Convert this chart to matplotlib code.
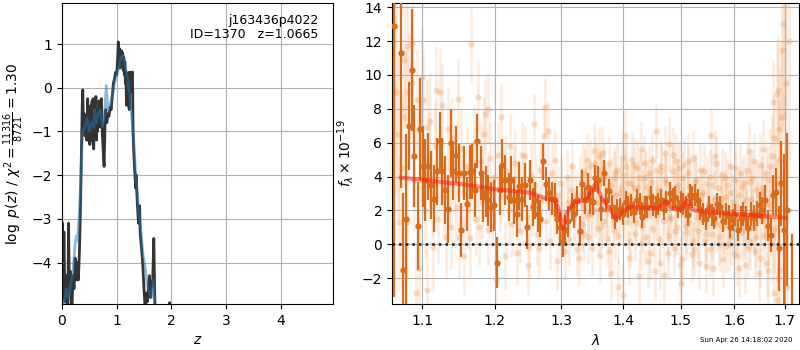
"""Redshift PDF + 1D spectrum panel (grizli-style fit summary)."""

import matplotlib

matplotlib.use("Agg")

import matplotlib.pyplot as plt
from matplotlib.ticker import NullLocator

# ── p(z) panel data ──────────────────────────────────────────────────────────

pz_z = [0.00, 0.01, 0.02, 0.035, 0.05, 0.06, 0.075, 0.09, 0.105, 0.12, 0.135,
        0.15, 0.165, 0.18, 0.20, 0.22, 0.24, 0.26, 0.28, 0.30, 0.32, 0.34,
        0.36, 0.37, 0.38, 0.39, 0.40, 0.41, 0.42, 0.43, 0.44, 0.45, 0.46,
        0.47, 0.48, 0.49, 0.50, 0.51, 0.52, 0.53, 0.54, 0.55, 0.56, 0.57,
        0.58, 0.59, 0.60, 0.61, 0.62, 0.63, 0.64, 0.65, 0.66, 0.67, 0.68,
        0.70, 0.72, 0.74, 0.76, 0.77, 0.78, 0.79, 0.80, 0.82, 0.84, 0.86,
        0.88, 0.90, 0.92, 0.94, 0.96, 0.98, 1.00, 1.01, 1.02, 1.03, 1.04,
        1.05, 1.06, 1.07, 1.08, 1.09, 1.10, 1.11, 1.12, 1.13, 1.14, 1.15,
        1.16, 1.17, 1.18, 1.19, 1.20, 1.21, 1.22, 1.23, 1.24, 1.25, 1.26,
        1.27, 1.28, 1.29, 1.30, 1.31, 1.33, 1.35, 1.36, 1.37, 1.38, 1.40,
        1.42, 1.43, 1.45, 1.47, 1.48, 1.50, 1.52, 1.54, 1.56, 1.58, 1.60,
        1.62, 1.64, 1.66, 1.68, 1.70, 1.72, 1.75, 1.95, 1.97, 1.99]
pz_logp = [-5.3, -3.1, -4.8, -3.3, -4.6, -4.9, -4.3, -4.7, -5.2, -3.1, -4.6,
           -4.2, -4.8, -5.2, -4.3, -4.6, -3.9, -4.4, -4.0, -4.4, -3.7, -2.6,
           -1.2, -0.4, -0.05, -0.8, -1.0, -0.6, -1.1, -0.7, -0.9, -1.2, -0.8,
           -0.25, -1.2, -1.0, -0.6, -1.3, -0.9, -0.4, -1.2, -0.3, -1.0, -0.25,
           -1.4, -0.8, -0.5, -0.9, -0.2, -1.2, -0.7, -1.0, -0.5, -0.9, -0.3,
           -0.9, -0.25, -1.1, -1.6, -1.8, -1.2, -0.7, -0.5, -0.8, -0.6, -0.65,
           -0.45, -0.5, -0.2, 0.1, 0.2, 0.35, 0.3, 0.5, 0.7, 1.05, 0.55,
           0.9, 0.45, 0.75, 0.5, 0.85, 0.6, 0.8, 0.4, 0.7, 0.3, 0.6,
           0.1, 0.35, -0.4, 0.3, 0.0, -0.4, 0.35, -0.5, 0.3, 0.35, -0.1,
           0.35, 0.3, 0.36, -1.0, -1.4, -1.9, -2.3, -2.0, -2.4, -2.7, -3.1,
           -2.7, -3.3, -3.6, -3.9, -4.1, -4.6, -5.0, -4.7, -4.9, -4.6, -4.3,
           -4.8, -4.5, -4.4, -3.45, -5.0, -5.5, -5.5, -5.3, -4.92, -5.3]

pz_smooth_z = [0.00, 0.05, 0.08, 0.12, 0.16, 0.20, 0.24, 0.26, 0.28, 0.30,
               0.32, 0.34, 0.36, 0.38, 0.42, 0.46, 0.50, 0.54, 0.58, 0.60,
               0.63, 0.66, 0.70, 0.74, 0.78, 0.81, 0.84, 0.88, 0.92, 0.96,
               1.00, 1.04, 1.08, 1.12, 1.16, 1.20, 1.24, 1.28, 1.31, 1.34,
               1.37, 1.40, 1.44, 1.48, 1.52, 1.56, 1.60, 1.64, 1.67, 1.70,
               1.73]
pz_smooth_logp = [-5.3, -4.9, -4.6, -4.8, -4.5, -4.2, -3.6, -3.4, -3.5, -3.2,
                  -2.8, -2.3, -1.5, -1.0, -0.9, -0.7, -1.0, -0.8, -0.9, -0.5,
                  -0.8, -0.6, -0.5, -0.9, -0.6, 0.05, -0.5, -0.4, -0.2, 0.1,
                  0.3, 0.45, 0.7, 0.75, 0.5, 0.2, -0.2, -0.7, -1.1, -1.8,
                  -2.3, -2.8, -3.2, -3.8, -4.1, -4.5, -4.7, -4.8, -4.4, -4.9,
                  -5.5]

pz_ylabel = r"$\log\ p(z)$ / $\chi^2=\frac{11316}{8721}=1.30$"
obj_label = "j163436p4022\nID=1370   z=1.0665"

# ── spectrum panel data ──────────────────────────────────────────────────────

# binned spectrum (dark points)
bin_wave = [1.063, 1.072, 1.075, 1.079, 1.083, 1.087, 1.089, 1.094, 1.097,
            1.101, 1.104, 1.108, 1.112, 1.116, 1.119, 1.123, 1.127, 1.131,
            1.134, 1.138, 1.142, 1.146, 1.149, 1.153, 1.156, 1.160, 1.165,
            1.168, 1.172, 1.175, 1.180, 1.183, 1.187, 1.191, 1.195, 1.199,
            1.203, 1.208, 1.211, 1.215, 1.220, 1.223, 1.228, 1.232, 1.236,
            1.240, 1.244, 1.248, 1.252, 1.256, 1.260, 1.264, 1.267, 1.272,
            1.276, 1.281, 1.285, 1.290, 1.293, 1.298, 1.302, 1.306, 1.310,
            1.316, 1.320, 1.325, 1.329, 1.333, 1.337, 1.342, 1.345, 1.350,
            1.354, 1.359, 1.363, 1.368, 1.372, 1.377, 1.381, 1.386, 1.390,
            1.395, 1.400, 1.405, 1.409, 1.414, 1.419, 1.423, 1.428, 1.432,
            1.437, 1.441, 1.447, 1.451, 1.456, 1.460, 1.465, 1.470, 1.474,
            1.481, 1.486, 1.490, 1.496, 1.500, 1.504, 1.509, 1.513, 1.517,
            1.521, 1.526, 1.531, 1.536, 1.541, 1.546, 1.552, 1.557, 1.562,
            1.568, 1.573, 1.578, 1.584, 1.589, 1.592, 1.597, 1.602, 1.607,
            1.613, 1.617, 1.622, 1.627, 1.633, 1.638, 1.644, 1.650, 1.655,
            1.660, 1.666, 1.672, 1.677, 1.683, 1.688, 1.692, 1.698, 1.704,
            1.715]
bin_flux = [12.9, 11.3, -1.5, 1.5, 7.0, 10.3, 5.2, 1.1, 6.8,
            4.6, 3.8, 4.6, 3.5, 2.7, 4.3, 6.1, 4.3, 3.2,
            2.1, 6.0, 4.3, 5.3, 4.2, 0.85, 4.2, 2.4, 4.25,
            4.3, 3.2, 6.1, 4.2, 2.8, 3.1, 2.6, 2.2, 2.3,
            -1.1, 3.2, 4.7, 3.8, 2.8, 3.8, 2.6, 1.8, 3.45,
            2.7, 3.5, 1.0, 3.8, 2.2, 2.6, 1.8, 1.5, 4.9,
            3.55, 3.0, 2.7, 2.6, 1.5, 1.0, 0.15, 0.85, 1.35,
            2.2, 1.8, 2.6, 0.8, 3.55, 2.6, 3.4, 2.6, 2.5,
            3.9, 3.8, 2.1, 4.2, 2.6, 3.15, 2.2, 1.6, 2.0,
            2.1, 1.8, 2.5, 2.2, 2.3, 1.9, 2.6, 2.4, 1.6,
            2.2, 2.2, 2.8, 2.3, 2.2, 2.4, 2.6, 2.1, 2.5,
            3.0, 2.65, 2.8, 2.2, 2.5, 2.4, 2.2, 1.75, 2.9,
            2.8, 2.9, 2.6, 2.1, 1.8, 1.5, 2.2, 1.7, 1.55,
            2.4, 2.2, 1.35, 1.8, 1.65, 1.0, 1.45, 1.75, 0.85,
            1.55, 1.8, 1.55, 0.95, 1.8, 1.55, 1.8, 2.3, 2.0,
            2.6, 1.1, 0.55, 2.9, 3.1, -0.25, 3.6, 0.85, 2.05,
            -4.0]
bin_err = [16.0, 8.0, 4.5, 5.0, 2.6, 3.6, 3.0, 2.6, 3.0,
           2.4, 2.4, 2.0, 2.0, 2.0, 2.0, 1.7, 2.0, 2.0,
           2.0, 2.0, 1.7, 1.7, 1.7, 1.6, 1.6, 1.6, 1.6,
           1.6, 1.6, 1.6, 1.6, 1.5, 1.5, 1.5, 1.5, 1.5,
           1.5, 1.5, 1.5, 1.5, 1.4, 1.4, 1.4, 1.4, 1.4,
           1.3, 1.3, 1.3, 1.2, 1.1, 1.1, 1.1, 1.1, 1.1,
           1.0, 1.0, 1.0, 1.0, 0.9, 0.9, 0.9, 0.9, 0.9,
           0.85, 0.85, 0.85, 0.85, 0.85, 0.8, 0.8, 0.8, 0.8,
           0.8, 0.8, 0.75, 0.75, 0.7, 0.7, 0.7, 0.7, 0.7,
           0.65, 0.65, 0.65, 0.65, 0.65, 0.65, 0.65, 0.65, 0.65,
           0.65, 0.65, 0.65, 0.65, 0.65, 0.65, 0.65, 0.65, 0.65,
           0.65, 0.65, 0.65, 0.65, 0.65, 0.65, 0.65, 0.65, 0.65,
           0.65, 0.65, 0.65, 0.65, 0.65, 0.65, 0.65, 0.65, 0.65,
           0.65, 0.65, 0.65, 0.65, 0.65, 0.65, 0.65, 0.65, 0.65,
           0.7, 0.7, 0.7, 0.7, 0.7, 0.75, 0.75, 0.8, 0.8,
           0.9, 0.9, 1.0, 1.2, 1.4, 2.5, 2.5, 4.5, 4.5,
           4.6]

# individual-beam spectra (faint points), first beam
raw_wave = [
    1.063, 1.066, 1.068, 1.070, 1.073, 1.076, 1.078, 1.080, 1.080, 1.083,
    1.086, 1.086, 1.089, 1.092, 1.093, 1.096, 1.098, 1.100, 1.101, 1.104,
    1.106, 1.106, 1.109, 1.110, 1.113, 1.114, 1.117, 1.118, 1.121, 1.123,
    1.125, 1.127, 1.129, 1.132, 1.134, 1.136, 1.138, 1.140, 1.143, 1.145,
    1.148, 1.150, 1.153, 1.155, 1.157, 1.160, 1.162, 1.165, 1.166, 1.169,
    1.171, 1.173, 1.176, 1.177, 1.180, 1.182, 1.185, 1.186, 1.189, 1.190,
    1.190, 1.193, 1.196, 1.199, 1.202, 1.205, 1.207, 1.209, 1.212, 1.215,
    1.217, 1.220, 1.222, 1.225, 1.228, 1.230, 1.232, 1.235, 1.237, 1.240,
    1.242, 1.245, 1.247, 1.249, 1.250, 1.253, 1.255, 1.258, 1.260, 1.262,
    1.265, 1.267, 1.270, 1.273, 1.274, 1.276, 1.279, 1.281, 1.283, 1.286,
    1.288, 1.290, 1.293, 1.295, 1.298, 1.300, 1.303, 1.305, 1.308, 1.310,
    1.312, 1.315, 1.317, 1.320, 1.322, 1.325, 1.327, 1.329, 1.332, 1.334,
    1.336, 1.339, 1.340, 1.343, 1.345, 1.347, 1.350, 1.352, 1.354, 1.356,
    1.358, 1.360, 1.362, 1.364, 1.365, 1.367, 1.369, 1.371, 1.373, 1.375,
    1.377, 1.380, 1.382, 1.384, 1.386, 1.388, 1.390, 1.392, 1.394, 1.396,
    1.399, 1.399, 1.402, 1.404, 1.405, 1.407, 1.409, 1.411, 1.413, 1.415,
    1.417, 1.419, 1.421, 1.423, 1.425, 1.427, 1.429, 1.430, 1.432, 1.434,
    1.436, 1.438, 1.440, 1.442, 1.444, 1.446, 1.448, 1.450, 1.452, 1.454,
    1.456, 1.457, 1.459, 1.461, 1.464, 1.466, 1.468, 1.470, 1.472, 1.473,
    1.475, 1.477, 1.479, 1.481, 1.483, 1.486, 1.488, 1.490, 1.492, 1.494,
    1.496, 1.499, 1.500, 1.502, 1.504, 1.506, 1.509, 1.511, 1.513, 1.515,
    1.518, 1.520, 1.522, 1.525, 1.527, 1.529, 1.532, 1.534, 1.536, 1.539,
    1.541, 1.544, 1.547, 1.549, 1.551, 1.554, 1.556, 1.558, 1.560, 1.562,
    1.564, 1.567, 1.569, 1.572, 1.574, 1.577, 1.579, 1.582, 1.584, 1.587,
    1.589, 1.592, 1.594, 1.597, 1.599, 1.602, 1.604, 1.606, 1.609, 1.611,
    1.614, 1.616, 1.619, 1.620, 1.623, 1.625, 1.628, 1.630, 1.633, 1.635,
    1.638, 1.640, 1.643, 1.645, 1.648, 1.650, 1.652, 1.655, 1.656, 1.659,
    1.661, 1.664, 1.666, 1.669, 1.671, 1.674, 1.677, 1.678, 1.679, 1.681,
    1.684, 1.685, 1.686, 1.688, 1.690, 1.692, 1.694, 1.696, 1.698, 1.700,
    1.702, 1.705, 1.708]
raw_flux = [
    14.5, 9.0, 6.5, 1.3, 4.5, 10.9, 7.5, 11.7, 1.3, 9.0,
    11.9, 9.5, 3.8, -2.9, 8.5, -1.4, 5.5, 9.9, 8.5, 2.0,
    -2.7, 6.9, 5.0, 7.3, 3.0, -0.15, 5.8, 9.1, 1.5, 9.0,
    4.5, 8.2, 2.8, 0.45, 6.8, 3.6, 1.0, 6.3, 4.8, 2.2,
    8.6, 0.4, 5.6, 3.0, -0.7, 4.6, 2.0, 0.35, 11.8, 3.6,
    6.0, 1.5, 8.7, 1.0, 4.9, 2.5, 6.5, 7.7, 3.4, 0.85,
    8.0, 5.1, 1.9, 4.0, -2.1, 5.3, 2.8, 7.5, 3.6, -0.7,
    4.4, 2.0, 5.8, 1.2, 3.9, 4.8, -0.5, 2.6, 0.8, 5.3,
    3.1, 5.2, 1.6, -1.2, -0.25, 4.1, 2.3, 7.1, 3.5, 0.6,
    -0.25, 4.4, 2.6, 6.4, 8.1, 1.4, 6.7, 3.3, 0.2, 4.2,
    2.0, 5.0, -1.0, 2.9, 0.9, 3.6, 1.9, -0.4, 4.0, 2.5,
    0.3, 3.2, 4.6, 1.5, 2.8, -0.3, -0.8, 3.7, 1.2, 4.3,
    2.2, 3.0, 5.0, 0.45, 4.6, 1.8, 3.4, 5.5, 2.0, 4.4,
    0.9, 5.2, -0.7, 3.6, 5.4, 1.4, 4.0, 2.6, 0.3, 3.2,
    4.8, -1.7, 2.3, 3.9, 0.8, 2.9, 4.4, -2.5, 1.6, 3.3,
    -3.0, 2.4, 4.1, 6.4, 4.6, 1.3, 2.9, 0.2, 3.6, 5.0,
    1.9, 3.3, 0.6, 4.5, 2.6, -1.9, 3.9, 5.6, 1.1, 2.8,
    4.8, 0.4, 3.4, 1.7, 4.2, -0.5, 2.5, 3.7, 0.9, -1.6,
    4.4, 6.7, 2.1, 3.2, -1.1, 4.6, 1.4, -1.8, 3.8, 5.4,
    2.2, 0.5, 5.9, 3.0, 1.6, 4.3, -0.2, 2.7, 4.9, 1.0,
    3.5, -1.2, -2.3, 3.9, 1.8, 4.7, 0.7, 2.9, 4.2, 1.3,
    3.4, -0.6, 5.1, -0.3, 2.4, 3.8, 0.8, 2.0, 4.4, 1.5,
    3.1, 0.2, -1.3, 3.6, 1.9, 4.0, 6.45, 0.6, -1.4, 2.7,
    5.2, 1.2, 3.3, 0.0, 2.3, 4.1, 1.0, 2.8, -0.1, 3.5,
    1.6, 4.6, 0.4, 2.5, -0.6, 3.8, 1.2, -0.7, 2.9, 4.2,
    0.7, 2.1, 3.6, -1.2, 1.5, 4.4, 5.5, 0.2, 2.7, 3.9,
    1.0, -0.4, 3.2, 2.0, -1.7, 4.7, 1.4, 3.0, 5.6, 0.5,
    2.4, -1.1, 3.8, 1.1, 4.6, 0.0, 8.4, -2.9, 6.3, 2.6,
    8.9, -3.3, 9.1, 5.0, -1.5, 7.5, 11.5, 13.0, 3.0, 14.5,
    9.5, -2.5, 12.0]
raw_err = [
    8.0, 6.0, 5.0, 4.0, 4.5, 4.0, 4.0, 4.0, 3.5, 3.5,
    3.5, 3.5, 3.0, 3.0, 3.0, 3.0, 3.0, 3.0, 3.0, 2.8,
    2.8, 2.8, 2.8, 2.8, 2.6, 2.6, 2.6, 2.6, 2.6, 2.6,
    2.5, 2.5, 2.5, 2.5, 2.5, 2.5, 2.5, 2.4, 2.4, 2.4,
    2.4, 2.4, 2.4, 2.3, 2.3, 2.3, 2.3, 2.3, 2.3, 2.2,
    2.2, 2.2, 2.2, 2.2, 2.2, 2.2, 2.2, 2.1, 2.1, 2.1,
    2.1, 2.1, 2.1, 2.1, 2.0, 2.0, 2.0, 2.0, 2.0, 2.0,
    2.0, 1.9, 1.9, 1.9, 1.9, 1.9, 1.9, 1.9, 1.9, 1.9,
    1.8, 1.8, 1.8, 1.8, 1.8, 1.8, 1.8, 1.8, 1.8, 1.8,
    1.8, 1.7, 1.7, 1.7, 1.7, 1.7, 1.7, 1.7, 1.7, 1.7,
    1.7, 1.7, 1.7, 1.7, 1.7, 1.7, 1.7, 1.7, 1.6, 1.6,
    1.6, 1.6, 1.6, 1.6, 1.6, 1.6, 1.6, 1.6, 1.6, 1.6,
    1.6, 1.6, 1.6, 1.6, 1.6, 1.6, 1.6, 1.6, 1.6, 1.6,
    1.6, 1.6, 1.6, 1.6, 1.6, 1.6, 1.6, 1.6, 1.6, 1.6,
    1.6, 1.6, 1.6, 1.6, 1.6, 1.6, 1.6, 1.6, 1.6, 1.6,
    1.6, 1.6, 1.6, 1.6, 1.6, 1.6, 1.6, 1.6, 1.6, 1.6,
    1.6, 1.6, 1.6, 1.6, 1.6, 1.6, 1.6, 1.6, 1.6, 1.6,
    1.6, 1.6, 1.6, 1.6, 1.6, 1.6, 1.6, 1.6, 1.6, 1.6,
    1.6, 1.6, 1.6, 1.6, 1.6, 1.6, 1.6, 1.6, 1.6, 1.6,
    1.6, 1.6, 1.6, 1.6, 1.6, 1.6, 1.6, 1.6, 1.6, 1.6,
    1.6, 1.6, 1.6, 1.6, 1.6, 1.6, 1.6, 1.6, 1.6, 1.6,
    1.6, 1.6, 1.6, 1.6, 1.6, 1.6, 1.6, 1.6, 1.6, 1.6,
    1.6, 1.6, 1.6, 1.6, 1.6, 1.6, 1.6, 1.6, 1.6, 1.6,
    1.6, 1.6, 1.6, 1.6, 1.6, 1.6, 1.6, 1.6, 1.6, 1.6,
    1.6, 1.6, 1.6, 1.6, 1.6, 1.7, 1.7, 1.7, 1.7, 1.7,
    1.7, 1.7, 1.7, 1.7, 1.7, 1.7, 1.7, 1.7, 1.7, 1.7,
    1.7, 1.7, 1.7, 1.7, 1.7, 1.8, 1.8, 1.8, 1.8, 1.9,
    1.9, 2.0, 2.0, 2.1, 2.2, 2.3, 2.5, 2.6, 2.6, 2.8,
    3.0, 3.0, 3.2, 3.5, 4.0, 4.5, 5.0, 6.0, 6.0, 7.0,
    7.0, 7.0, 8.0]

# second beam, red half of the spectrum only
raw2_wave = [
    1.331, 1.335, 1.338, 1.342, 1.346, 1.349, 1.353, 1.357, 1.361, 1.364,
    1.368, 1.372, 1.376, 1.379, 1.383, 1.387, 1.391, 1.395, 1.398, 1.402,
    1.406, 1.410, 1.414, 1.418, 1.422, 1.426, 1.430, 1.434, 1.438, 1.442,
    1.446, 1.450, 1.454, 1.458, 1.462, 1.466, 1.470, 1.474, 1.478, 1.482,
    1.486, 1.490, 1.494, 1.498, 1.502, 1.506, 1.510, 1.514, 1.518, 1.522,
    1.526, 1.530, 1.534, 1.538, 1.542, 1.546, 1.550, 1.554, 1.558, 1.562,
    1.566, 1.570, 1.574, 1.578, 1.582, 1.586, 1.590, 1.594, 1.598, 1.602,
    1.606, 1.610, 1.614, 1.618, 1.622, 1.626, 1.630, 1.634, 1.638, 1.642,
    1.646, 1.650, 1.654, 1.658, 1.662, 1.666, 1.670, 1.674, 1.678, 1.682,
    1.686, 1.689]
raw2_flux = [
    2.9, 0.6, 4.1, 1.7, 3.3, -0.2, 4.8, 2.5, 3.9, 1.1,
    4.5, 2.0, -0.4, 3.5, 1.4, 4.2, 0.5, 3.0, 5.1, 1.8,
    3.6, -0.8, 2.6, 4.7, 1.3, 3.4, 0.1, 2.3, 4.0, -1.0,
    3.1, 5.0, 1.9, 2.8, 0.3, 4.3, 2.2, 3.6, -0.5, 1.5,
    5.3, 0.8, 3.2, 4.5, -0.9, 2.6, 1.1, 4.9, 2.0, 0.2,
    3.7, 1.6, -1.1, 2.9, 4.3, 0.6, 2.4, -0.3, 3.5, 1.3,
    4.8, 0.4, 2.7, -0.9, 3.9, 1.7, 0.0, 3.0, 1.1, 4.5,
    2.2, -1.4, 3.4, 0.9, 2.6, -0.2, 3.7, 1.5, 4.9, 0.4,
    2.9, -0.8, 3.3, 1.6, 4.2, -1.6, 2.3, 5.2, 0.9, 3.6,
    -2.0, 6.8]
raw2_err = [
    1.6, 1.6, 1.6, 1.6, 1.6, 1.6, 1.6, 1.6, 1.6, 1.6,
    1.6, 1.6, 1.6, 1.6, 1.6, 1.6, 1.6, 1.6, 1.6, 1.6,
    1.6, 1.6, 1.6, 1.6, 1.6, 1.6, 1.6, 1.6, 1.6, 1.6,
    1.6, 1.6, 1.6, 1.6, 1.6, 1.6, 1.6, 1.6, 1.6, 1.6,
    1.6, 1.6, 1.6, 1.6, 1.6, 1.6, 1.6, 1.6, 1.6, 1.6,
    1.6, 1.6, 1.6, 1.6, 1.6, 1.6, 1.6, 1.6, 1.6, 1.6,
    1.6, 1.6, 1.6, 1.6, 1.6, 1.6, 1.6, 1.6, 1.6, 1.7,
    1.7, 1.7, 1.7, 1.7, 1.7, 1.7, 1.7, 1.7, 1.7, 1.8,
    1.8, 1.8, 1.9, 1.9, 2.0, 2.1, 2.2, 2.4, 2.6, 2.8,
    3.2, 3.6]

# best-fit template
model_wave = [1.072, 1.155, 1.201, 1.252, 1.275, 1.290, 1.295, 1.303, 1.308,
              1.319, 1.337, 1.343, 1.355, 1.364, 1.375, 1.388, 1.399, 1.409,
              1.460, 1.466, 1.474, 1.484, 1.498, 1.502, 1.512, 1.519, 1.528,
              1.586, 1.650, 1.701]
model_flux = [3.94, 3.54, 3.25, 3.05, 2.72, 2.62, 2.13, 0.89, 1.83,
              2.42, 2.62, 2.81, 3.60, 2.72, 2.22, 1.54, 1.93, 2.18,
              2.13, 2.30, 2.52, 2.13, 2.03, 2.15, 2.62, 2.13, 1.97,
              1.83, 1.67, 1.57]

wave_ticks = [1.1, 1.2, 1.3, 1.4, 1.5, 1.6, 1.7]
timestamp = "Sun Apr 26 14:18:02 2020"

# ── figure ───────────────────────────────────────────────────────────────────

fig = plt.figure(figsize=(8, 3.5), dpi=100)
ax_pz = fig.add_axes([0.0775, 0.1314, 0.3388, 0.86])
ax_sp = fig.add_axes([0.49, 0.1314, 0.50875, 0.86])

# p(z)
ax_pz.plot(pz_z, pz_logp, color="0.2", lw=2, zorder=2)
ax_pz.plot(pz_smooth_z, pz_smooth_logp, color="tab:blue", alpha=0.5, lw=2,
           zorder=3)
ax_pz.set_xlim(0, 4.96)
ax_pz.set_ylim(-4.95, 1.94)
ax_pz.set_xticks([0, 1, 2, 3, 4])
ax_pz.set_yticks([-4, -3, -2, -1, 0, 1])
ax_pz.set_xlabel(r"$z$")
ax_pz.set_ylabel(pz_ylabel)
ax_pz.grid(True)
ax_pz.text(0.945, 0.965, obj_label, ha="right", va="top",
           transform=ax_pz.transAxes, fontsize=9, linespacing=1.1)

# spectrum: faint per-beam points first, then binned points and model
faint = "#ee8a3c"
for w, f, e in [(raw_wave, raw_flux, raw_err),
                (raw2_wave, raw2_flux, raw2_err)]:
    ax_sp.errorbar(w, f, e, fmt="none", ecolor=faint, elinewidth=2,
                   alpha=0.15, zorder=1)
    ax_sp.plot(w, f, "o", color=faint, ms=4.5, mew=0, alpha=0.28, zorder=1)

orange_dark = "#d96c1c"
ax_sp.errorbar(bin_wave, bin_flux, bin_err, fmt="o", color=orange_dark,
               ecolor=orange_dark, ms=4.5, mew=0, elinewidth=1.6, zorder=3)
ax_sp.plot(model_wave, model_flux, color="#ff1a0a", lw=3, alpha=0.5,
           zorder=4)
ax_sp.axhline(0, color="0.1", ls=":", lw=1.8, zorder=5)

ax_sp.set_xscale("log")
ax_sp.set_xlim(1.0607, 1.7293)
ax_sp.set_xticks(wave_ticks)
ax_sp.set_xticklabels([f"{w:.1f}" for w in wave_ticks])
ax_sp.xaxis.set_minor_locator(NullLocator())
ax_sp.set_ylim(-3.53, 14.25)
ax_sp.set_yticks([-2, 0, 2, 4, 6, 8, 10, 12, 14])
ax_sp.set_xlabel(r"$\lambda$")
ax_sp.set_ylabel(r"$f_\lambda\times10^{-19}$")
ax_sp.grid(True)

fig.text(0.991, 0.02, timestamp, ha="right", va="bottom", fontsize=5)

fig.savefig("out.png", dpi=100)
plt.close(fig)
